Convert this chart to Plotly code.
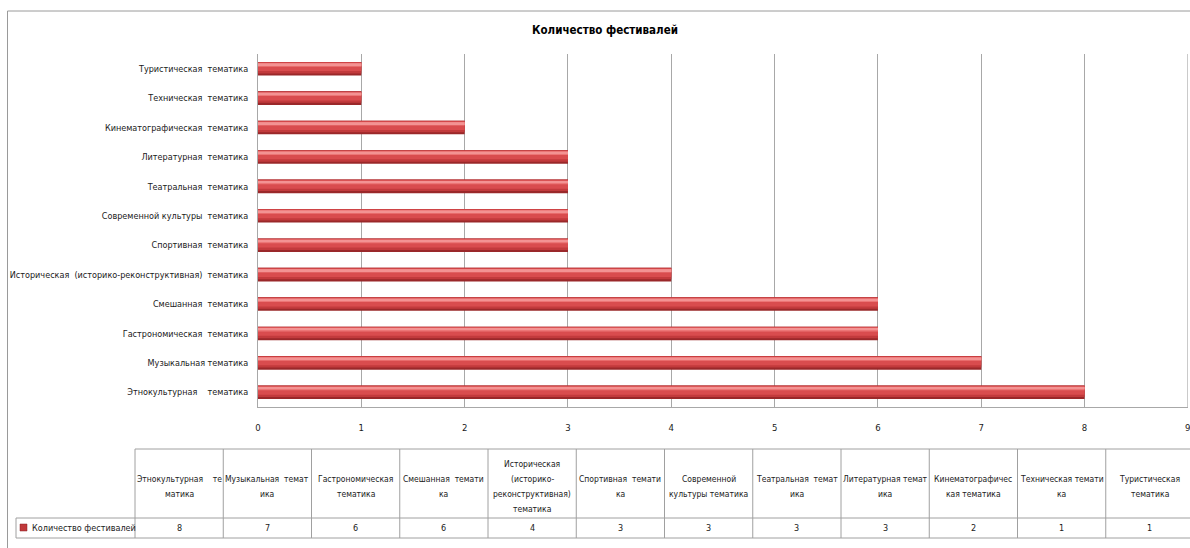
import plotly.graph_objects as go

# ---------------- data ----------------
categories = [
    "Этнокультурная    тематика",
    "Музыкальная тематика",
    "Гастрономическая  тематика",
    "Смешанная  тематика",
    "Историческая  (историко-реконструктивная)  тематика",
    "Спортивная  тематика",
    "Современной культуры  тематика",
    "Театральная  тематика",
    "Литературная  тематика",
    "Кинематографическая  тематика",
    "Техническая  тематика",
    "Туристическая  тематика",
]
counts = [8, 7, 6, 6, 4, 3, 3, 3, 3, 2, 1, 1]
table_headers = [
    "Этнокультурная    те<br>матика",
    "Музыкальная  темат<br>ика",
    "Гастрономическая<br>тематика",
    "Смешанная  темати<br>ка",
    "Историческая<br>(историко-<br>реконструктивная)<br>тематика",
    "Спортивная  темати<br>ка",
    "Современной<br>культуры тематика",
    "Театральная  темат<br>ика",
    "Литературная темат<br>ика",
    "Кинематографичес<br>кая тематика",
    "Техническая темати<br>ка",
    "Туристическая<br>тематика",
]
series_name = "Количество фестивалей"
title_text = "Количество фестивалей"
x_ticks = list(range(0, 10))

# ---------------- layout helpers ----------------
W, H = 1190, 548
FONT = "Liberation Sans Narrow, DejaVu Sans Condensed, Arial Narrow, sans-serif"
TXT = "#1a1a1a"
GRID = "#a8a8a8"


def px(x):
    return x / W


def py(y):
    return 1 - y / H


fig = go.Figure()

# cylinder-like shading via overlaid bars
layers = [
    (-0.23, 0.46, "#9a282a"),
    (-0.16, 0.39, "#c23a3c"),
    (-0.08, 0.29, "#d94c4e"),
    (0.07, 0.12, "#ec7676"),
    (0.12, 0.06, "#f39393"),
]
for off, wd, col in layers:
    fig.add_trace(go.Bar(
        x=counts, y=categories, orientation="h",
        offset=off, width=wd,
        marker=dict(color=col, line=dict(width=0)),
        showlegend=False, hoverinfo="x+y",
    ))

fig.update_layout(
    width=W, height=H,
    margin=dict(l=0, r=0, t=0, b=0, autoexpand=False),
    paper_bgcolor="white", plot_bgcolor="white",
    barmode="overlay",
    font=dict(family=FONT, size=9, color=TXT),
    xaxis=dict(
        domain=[px(258), px(1188)], range=[0, 9.001], automargin=False,
        tickvals=x_ticks, ticktext=[str(t) for t in x_ticks],
        showgrid=True, gridcolor=GRID, gridwidth=1,
        zeroline=False, showline=True, linecolor=GRID, linewidth=1,
        ticks="outside", ticklen=12, tickcolor="rgba(0,0,0,0)",
        tickfont=dict(family=FONT, size=9.5, color=TXT),
    ),
    yaxis=dict(
        domain=[py(407), py(54)], automargin=False,
        type="category", categoryorder="array", categoryarray=categories,
        showgrid=False, zeroline=False,
        showline=True, linecolor=GRID, linewidth=1,
        ticks="outside", ticklen=7, tickcolor="rgba(0,0,0,0)",
        tickfont=dict(family=FONT, size=9, color=TXT),
    ),
)

shapes = []
annotations = []

# outer chart border
shapes.append(dict(type="rect", xref="paper", yref="paper",
                   x0=px(7.5), x1=px(1215), y0=py(570), y1=py(11),
                   line=dict(color="#9a9a9a", width=1), fillcolor="rgba(0,0,0,0)"))

# last gridline and its tick label (plotly drops the one at the plot edge)
last_tick = x_ticks[-1]
shapes.append(dict(type="line", xref="x", yref="paper", x0=last_tick, x1=last_tick,
                   y0=py(407), y1=py(54), line=dict(color=GRID, width=1)))
annotations.append(dict(text=str(last_tick), xref="x", yref="paper",
                        x=last_tick, y=py(427), showarrow=False,
                        xanchor="center", yanchor="middle",
                        font=dict(family=FONT, size=9.5, color=TXT)))

# title
annotations.append(dict(text="<b>" + title_text + "</b>", xref="paper", yref="paper",
                        x=px(605), y=py(30), showarrow=False,
                        xanchor="center", yanchor="middle",
                        font=dict(family=FONT, size=11.5, color="#000")))

# ---------------- data table ----------------
TL, TR = 135, 1194
top, mid, bot = 449, 518, 538
colw = (TR - TL) / len(table_headers)
LINE = dict(color="#a0a0a0", width=1)

for yy, x0 in [(top, TL), (mid, 16), (bot, 16)]:
    shapes.append(dict(type="line", xref="paper", yref="paper",
                       x0=px(x0), x1=px(TR), y0=py(yy), y1=py(yy), line=LINE))
shapes.append(dict(type="line", xref="paper", yref="paper",
                   x0=px(16), x1=px(16), y0=py(mid), y1=py(bot), line=LINE))
for k in range(len(table_headers) + 1):
    xx = TL + k * colw
    shapes.append(dict(type="line", xref="paper", yref="paper",
                       x0=px(xx), x1=px(xx), y0=py(top), y1=py(bot), line=LINE))

LINE_STEP = 15
for k, (hd, v) in enumerate(zip(table_headers, counts)):
    cx = TL + (k + 0.5) * colw
    parts = hd.split("<br>")
    n = len(parts)
    for i, part in enumerate(parts):
        yy = 486 + (i - (n - 1) / 2) * LINE_STEP
        annotations.append(dict(text=part, xref="paper", yref="paper",
                                x=px(cx), y=py(yy), showarrow=False,
                                xanchor="center", yanchor="middle",
                                font=dict(family=FONT, size=8.5, color=TXT)))
    annotations.append(dict(text=str(v), xref="paper", yref="paper",
                            x=px(cx), y=py((mid + bot) / 2), showarrow=False,
                            xanchor="center", yanchor="middle",
                            font=dict(family=FONT, size=9, color=TXT)))

# legend key in table
shapes.append(dict(type="rect", xref="paper", yref="paper",
                   x0=px(20), x1=px(27), y0=py(531), y1=py(524),
                   fillcolor="#c0393b", line=dict(color="#8a2224", width=0.5)))
annotations.append(dict(text=series_name, xref="paper", yref="paper",
                        x=px(30), y=py(528), showarrow=False,
                        xanchor="left", yanchor="middle",
                        font=dict(family=FONT, size=9, color=TXT)))

fig.update_layout(shapes=shapes, annotations=annotations)
fig.write_html(
    "out.html",
    config={"displayModeBar": False},
    post_script="document.body.style.margin='0';document.body.style.overflow='hidden';",
)
